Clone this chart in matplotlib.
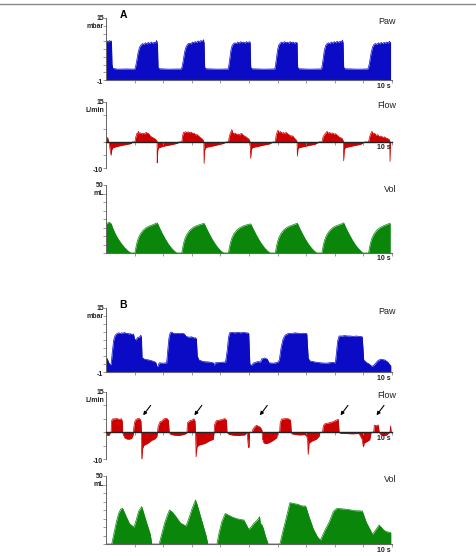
import matplotlib
matplotlib.use('Agg')
import matplotlib.pyplot as plt
from matplotlib.lines import Line2D

plt.rcParams['font.family'] = ['Liberation Sans', 'DejaVu Sans']

# ---------------- data (time s, value) ----------------
paw_a = [(0.00, 8.6), (0.04, 9.1), (0.08, 8.8), (0.12, 9.2), (0.16, 8.9), (0.19, 9.1), (0.21, 3.0), (0.24, 2.0),
         (0.40, 1.8), (0.70, 1.85), (1.00, 1.8),
         (1.03, 2.3), (1.07, 3.8), (1.12, 6.0), (1.17, 7.4), (1.23, 8.1), (1.28, 8.4), (1.33, 8.2), (1.38, 8.6),
         (1.43, 8.3), (1.48, 8.7), (1.53, 8.4), (1.58, 8.8), (1.63, 8.5), (1.68, 8.7), (1.73, 8.6), (1.77, 9.2),
         (1.80, 8.2), (1.82, 2.3), (1.86, 1.9), (2.20, 1.8), (2.63, 1.85),
         (2.66, 2.4), (2.70, 4.0), (2.75, 6.3), (2.80, 7.6), (2.86, 8.3), (2.92, 8.5), (2.97, 8.3), (3.02, 8.8),
         (3.07, 8.6), (3.12, 8.9), (3.17, 8.7), (3.22, 9.1), (3.27, 8.8), (3.32, 9.2), (3.37, 8.9), (3.41, 9.4),
         (3.43, 8.5), (3.45, 2.3), (3.49, 1.9), (3.90, 1.8), (4.27, 1.85),
         (4.29, 2.5), (4.33, 4.6), (4.37, 6.8), (4.41, 7.9), (4.46, 8.4), (4.51, 8.6), (4.56, 8.4), (4.61, 8.8),
         (4.66, 8.5), (4.71, 8.9), (4.76, 8.6), (4.81, 8.8), (4.86, 8.5), (4.91, 8.9), (4.96, 8.6), (5.01, 8.9),
         (5.04, 8.7), (5.06, 2.3), (5.10, 1.9), (5.50, 1.8), (5.90, 1.85),
         (5.92, 2.5), (5.96, 4.6), (6.00, 6.8), (6.04, 8.0), (6.09, 8.5), (6.14, 8.8), (6.19, 8.5), (6.24, 8.9),
         (6.29, 8.6), (6.34, 8.8), (6.39, 8.5), (6.44, 8.9), (6.49, 8.6), (6.54, 8.8), (6.59, 8.5), (6.64, 8.7),
         (6.68, 8.6), (6.70, 2.3), (6.74, 1.9), (7.10, 1.8), (7.53, 1.85),
         (7.55, 2.4), (7.59, 4.3), (7.63, 6.5), (7.68, 7.9), (7.73, 8.4), (7.78, 8.6), (7.83, 8.4), (7.88, 8.8),
         (7.93, 8.5), (7.98, 8.9), (8.03, 8.6), (8.08, 9.0), (8.13, 8.7), (8.18, 9.0), (8.23, 8.8), (8.27, 9.3),
         (8.29, 8.5), (8.31, 2.3), (8.35, 1.9), (8.80, 1.8), (9.15, 1.85),
         (9.18, 2.3), (9.22, 3.8), (9.27, 6.0), (9.32, 7.5), (9.37, 8.2), (9.42, 8.4), (9.47, 8.2), (9.52, 8.6),
         (9.57, 8.3), (9.62, 8.7), (9.67, 8.4), (9.72, 8.7), (9.77, 8.5), (9.82, 8.8), (9.87, 8.5), (9.91, 9.0),
         (9.95, 8.6)]

flow_a = [(0.00, 0.0), (0.01, 1.8), (0.06, 1.5), (0.09, 0.3), (0.12, -1.0), (0.15, -3.5), (0.18, -5.0), (0.20, -3.0),
          (0.24, -2.2), (0.35, -1.8), (0.50, -1.4), (0.70, -1.0), (0.88, -0.6), (0.92, 0.0), (1.00, 0.0),
          (1.01, 0.0), (1.04, 1.8), (1.08, 3.2), (1.11, 3.0), (1.13, 4.0), (1.16, 3.2), (1.20, 3.4), (1.25, 3.0),
          (1.30, 3.3), (1.35, 3.0), (1.40, 3.6), (1.45, 3.3), (1.50, 3.0), (1.55, 2.2), (1.60, 1.8), (1.66, 1.5),
          (1.72, 1.1), (1.77, 0.6), (1.785, 0.0),
          (1.79, -7.9), (1.81, -3.0), (1.84, -2.2), (1.95, -1.8), (2.10, -1.4), (2.30, -1.0), (2.50, -0.5),
          (2.55, 0.0), (2.64, 0.0),
          (2.65, 0.0), (2.68, 2.4), (2.71, 3.6), (2.75, 3.4), (2.79, 3.9), (2.83, 3.5), (2.88, 3.8), (2.93, 3.4),
          (2.98, 3.7), (3.03, 3.2), (3.08, 3.3), (3.13, 2.6), (3.18, 2.8), (3.23, 2.3), (3.30, 1.6), (3.38, 1.0),
          (3.42, 0.0),
          (3.43, -8.1), (3.45, -3.0), (3.50, -2.0), (3.70, -1.6), (3.90, -1.1), (4.10, -0.6), (4.20, 0.0), (4.27, 0.0),
          (4.28, 0.0), (4.31, 2.0), (4.35, 3.4), (4.40, 4.6), (4.43, 3.5), (4.47, 3.0), (4.52, 3.3), (4.57, 2.8),
          (4.62, 3.0), (4.67, 2.6), (4.72, 3.2), (4.77, 2.9), (4.82, 2.3), (4.88, 2.0), (4.94, 1.5), (5.00, 1.0),
          (5.04, 0.0),
          (5.06, -6.2), (5.08, -2.8), (5.12, -2.1), (5.30, -1.7), (5.50, -1.2), (5.70, -0.8), (5.85, 0.0), (5.90, 0.0),
          (5.92, 0.0), (5.95, 2.6), (5.98, 3.6), (6.01, 4.4), (6.05, 3.6), (6.10, 3.9), (6.15, 3.3), (6.20, 3.5),
          (6.25, 3.2), (6.30, 3.6), (6.35, 3.0), (6.40, 2.7), (6.46, 2.2), (6.52, 2.3), (6.58, 1.5), (6.64, 0.9),
          (6.68, 0.0),
          (6.69, -5.4), (6.71, -2.6), (6.76, -2.1), (6.90, -1.8), (7.10, -1.3), (7.30, -0.9), (7.45, 0.0), (7.53, 0.0),
          (7.55, 0.0), (7.59, 1.9), (7.64, 2.8), (7.69, 3.4), (7.73, 4.0), (7.77, 3.2), (7.82, 3.6), (7.87, 3.0),
          (7.92, 3.4), (7.97, 2.9), (8.02, 3.1), (8.07, 2.6), (8.13, 2.0), (8.19, 1.6), (8.25, 1.4), (8.29, 0.5),
          (8.30, 0.0),
          (8.31, -7.1), (8.33, -3.0), (8.37, -2.1), (8.50, -1.8), (8.70, -1.3), (8.90, -0.9), (9.05, 0.0), (9.16, 0.0),
          (9.18, 0.0), (9.22, 2.0), (9.26, 3.2), (9.30, 4.0), (9.34, 3.0), (9.39, 3.3), (9.44, 2.5), (9.50, 2.7),
          (9.56, 2.0), (9.62, 2.2), (9.68, 1.7), (9.74, 1.9), (9.80, 1.4), (9.86, 1.2), (9.91, 0.8), (9.92, 0.0),
          (9.93, -7.4), (9.94, -3.0), (9.95, 0.0)]

vol_a = [(0.00, 21.0), (0.05, 22.0), (0.12, 22.6), (0.18, 21.5), (0.25, 17.5), (0.35, 13.0), (0.45, 9.5),
         (0.55, 6.5), (0.65, 4.0), (0.75, 1.8), (0.85, 0.3), (0.90, 0.0), (1.01, 0.0),
         (1.04, 3.5), (1.08, 7.5), (1.13, 11.0), (1.20, 14.0), (1.30, 16.8), (1.40, 18.6), (1.50, 19.7),
         (1.60, 20.5), (1.70, 21.4), (1.79, 22.2),
         (1.88, 18.0), (1.98, 13.8), (2.08, 10.0), (2.18, 6.6), (2.28, 3.8), (2.38, 1.6), (2.46, 0.2), (2.50, 0.0),
         (2.65, 0.0),
         (2.68, 3.8), (2.72, 7.8), (2.77, 11.2), (2.84, 14.2), (2.94, 17.0), (3.04, 18.7), (3.14, 19.8),
         (3.24, 20.6), (3.34, 21.3), (3.43, 21.8),
         (3.52, 17.8), (3.62, 13.6), (3.72, 9.8), (3.82, 6.5), (3.92, 3.7), (4.02, 1.5), (4.10, 0.2), (4.13, 0.0),
         (4.28, 0.0),
         (4.31, 3.6), (4.35, 7.6), (4.40, 11.0), (4.47, 14.0), (4.57, 16.8), (4.67, 18.5), (4.77, 19.6),
         (4.87, 20.4), (4.97, 21.0), (5.06, 21.4),
         (5.15, 17.5), (5.25, 13.4), (5.35, 9.6), (5.45, 6.4), (5.55, 3.6), (5.65, 1.4), (5.73, 0.2), (5.76, 0.0),
         (5.92, 0.0),
         (5.95, 3.7), (5.99, 7.7), (6.04, 11.1), (6.11, 14.1), (6.21, 16.9), (6.31, 18.6), (6.41, 19.7),
         (6.51, 20.5), (6.61, 21.3), (6.69, 21.9),
         (6.78, 17.8), (6.88, 13.6), (6.98, 9.8), (7.08, 6.5), (7.18, 3.7), (7.28, 1.5), (7.36, 0.2), (7.39, 0.0),
         (7.55, 0.0),
         (7.58, 3.8), (7.62, 7.8), (7.67, 11.2), (7.74, 14.2), (7.84, 17.0), (7.94, 18.8), (8.04, 19.9),
         (8.14, 20.7), (8.24, 21.5), (8.31, 22.2),
         (8.40, 18.0), (8.50, 13.8), (8.60, 10.0), (8.70, 6.6), (8.80, 3.8), (8.90, 1.6), (8.97, 0.2), (9.00, 0.0),
         (9.18, 0.0),
         (9.21, 3.6), (9.25, 7.6), (9.30, 11.0), (9.37, 14.0), (9.47, 16.8), (9.57, 18.5), (9.67, 19.7),
         (9.77, 20.6), (9.87, 21.4), (9.94, 22.0)]

paw_b = [(0.00, 2.2), (0.04, 2.4), (0.08, 1.6), (0.14, 0.8), (0.18, 1.0),
         (0.22, 4.0), (0.27, 7.0), (0.32, 8.2), (0.38, 8.6), (0.45, 8.8), (0.50, 8.6), (0.55, 8.8), (0.60, 8.7),
         (0.65, 8.9), (0.70, 8.6), (0.75, 8.7), (0.80, 8.5), (0.85, 8.6), (0.90, 8.4), (0.96, 8.5), (1.00, 7.2),
         (1.05, 7.0), (1.10, 7.6), (1.18, 7.8), (1.22, 8.2), (1.24, 7.5), (1.26, 2.6), (1.35, 2.2), (1.50, 2.0),
         (1.65, 1.7), (1.74, 1.4), (1.78, 0.4), (1.82, 0.5), (1.86, 1.3), (2.00, 1.2), (2.12, 1.3),
         (2.16, 4.5), (2.20, 7.5), (2.24, 8.7), (2.28, 9.0), (2.35, 8.7), (2.42, 8.6), (2.50, 8.7), (2.58, 8.6),
         (2.66, 8.7), (2.74, 8.5), (2.80, 7.9), (2.90, 7.7), (3.00, 7.8), (3.08, 7.5), (3.12, 7.6), (3.16, 7.3),
         (3.19, 3.0), (3.25, 2.0), (3.40, 1.6), (3.60, 1.5), (3.75, 1.3), (3.78, 0.6), (3.82, 1.3), (4.00, 1.4),
         (4.18, 1.5),
         (4.24, 4.5), (4.28, 7.5), (4.32, 8.8), (4.40, 8.9), (4.50, 8.8), (4.60, 8.9), (4.70, 8.8), (4.80, 8.9),
         (4.90, 8.8), (4.99, 8.7), (5.03, 1.0), (5.08, 0.6), (5.15, 1.2), (5.30, 1.6), (5.40, 1.5), (5.45, 2.3),
         (5.55, 2.5), (5.64, 2.2), (5.70, 1.3), (5.85, 1.2), (6.00, 1.4),
         (6.06, 2.0), (6.12, 5.0), (6.18, 7.0), (6.24, 8.0), (6.30, 8.4), (6.40, 8.7), (6.50, 8.6), (6.60, 8.8),
         (6.70, 8.7), (6.80, 8.6), (6.90, 8.7), (7.02, 8.6), (7.07, 2.5), (7.12, 1.8), (7.30, 1.5), (7.50, 1.3),
         (7.70, 1.2), (7.90, 1.4), (8.02, 1.3),
         (8.06, 4.0), (8.10, 6.8), (8.15, 8.0), (8.25, 8.0), (8.35, 8.1), (8.45, 8.0), (8.55, 8.0), (8.65, 7.9),
         (8.75, 8.0), (8.85, 7.9), (8.96, 7.8), (9.01, 2.0), (9.10, 1.4), (9.20, 1.0), (9.30, 0.4), (9.38, 0.8),
         (9.50, 1.8), (9.60, 2.2), (9.75, 2.0), (9.85, 1.5), (9.96, 0.5)]

flow_b = [(0.00, -1.0), (0.10, -1.2), (0.16, 0.0),
          (0.18, 0.0), (0.19, 4.0), (0.22, 4.9), (0.30, 5.0), (0.38, 5.1), (0.46, 4.8), (0.54, 5.0), (0.57, 4.0),
          (0.58, 0.0),
          (0.60, -0.8), (0.65, -2.0), (0.72, -2.5), (0.82, -2.6), (0.90, -2.2), (0.95, -1.0), (0.96, 0.0),
          (0.97, 1.5), (1.00, 3.8), (1.05, 4.8), (1.12, 5.1), (1.18, 5.0), (1.22, 4.2), (1.24, 0.0),
          (1.25, -10.8), (1.28, -6.0), (1.33, -4.8), (1.45, -4.2), (1.60, -3.0), (1.72, -2.4), (1.78, -1.5),
          (1.80, 0.0),
          (1.82, 2.0), (1.88, 3.8), (1.95, 4.2), (2.03, 5.0), (2.12, 5.2), (2.18, 4.5), (2.21, 0.0),
          (2.26, -0.8), (2.40, -1.1), (2.55, -1.2), (2.70, -0.9), (2.80, -0.5), (2.83, 0.0),
          (2.85, 3.5), (2.92, 4.2), (3.00, 4.5), (3.07, 5.0), (3.11, 4.2), (3.13, 0.0),
          (3.15, -9.2), (3.18, -5.5), (3.25, -4.8), (3.45, -4.2), (3.60, -3.3), (3.75, -2.6), (3.78, 0.0),
          (3.80, 3.0), (3.86, 4.3), (3.95, 4.5), (4.05, 4.7), (4.15, 5.1), (4.21, 4.5), (4.23, 0.0),
          (4.30, -0.8), (4.45, -1.1), (4.65, -1.2), (4.85, -1.0), (4.93, 0.0),
          (4.98, -5.7), (5.00, -5.5), (5.02, 0.0),
          (5.11, 0.0), (5.14, 1.2), (5.20, 2.0), (5.26, 2.6), (5.33, 2.2), (5.40, 1.8), (5.45, 0.8), (5.46, 0.0),
          (5.47, -2.5), (5.52, -4.0), (5.60, -4.3), (5.72, -3.8), (5.85, -3.0), (5.97, -2.0), (6.00, 0.0),
          (6.07, 0.0), (6.09, 3.5), (6.14, 4.9), (6.22, 5.0), (6.30, 5.1), (6.38, 5.0), (6.45, 4.5), (6.48, 0.0),
          (6.50, -0.6), (6.65, -0.9), (6.80, -1.0), (6.95, -0.9), (7.02, -1.5),
          (7.05, -3.0), (7.07, -8.3), (7.10, -4.0), (7.20, -3.3), (7.35, -2.6), (7.45, -1.5), (7.48, 0.0),
          (7.57, 0.0), (7.60, 2.5), (7.66, 3.2), (7.75, 3.4), (7.85, 3.6), (7.95, 4.0), (8.05, 4.5), (8.12, 4.8),
          (8.15, 0.0),
          (8.20, -0.4), (8.40, -0.5), (8.60, -0.6), (8.85, -0.5),
          (8.95, -2.5), (9.00, -5.5), (9.03, -4.0), (9.12, -3.5), (9.22, -2.8), (9.27, 0.0),
          (9.36, 0.0), (9.38, 2.6), (9.45, 2.4), (9.52, 2.7), (9.55, 0.0),
          (9.62, -1.0), (9.70, -1.3), (9.80, -1.1), (9.88, -0.4), (9.91, 0.0),
          (9.93, 0.0), (9.95, 2.4), (9.97, 0.0)]

vol_b = [(0.00, 0.0), (0.20, 0.0), (0.28, 8.0), (0.36, 16.0), (0.44, 22.5), (0.52, 25.8), (0.58, 26.2),
         (0.70, 20.5), (0.82, 15.0), (0.98, 12.3), (1.06, 18.0), (1.14, 24.0), (1.25, 27.5), (1.40, 17.0),
         (1.55, 7.0), (1.60, 0.0), (1.86, 0.0),
         (1.95, 7.5), (2.05, 15.5), (2.15, 21.5), (2.22, 25.0), (2.32, 23.5), (2.45, 20.0), (2.60, 15.5),
         (2.80, 13.2), (2.90, 19.0), (3.00, 25.5), (3.13, 32.4), (3.20, 28.0), (3.35, 17.0), (3.50, 6.0),
         (3.56, 0.0), (3.88, 0.0),
         (3.95, 8.0), (4.05, 16.5), (4.17, 22.5), (4.30, 21.0), (4.45, 19.5), (4.60, 18.5), (4.82, 17.6),
         (4.99, 10.8), (5.08, 12.7), (5.17, 15.2), (5.29, 17.6), (5.37, 20.0), (5.40, 14.0), (5.44, 14.7),
         (5.50, 11.5), (5.58, 5.4), (5.67, 0.0), (6.08, 0.0),
         (6.18, 9.0), (6.30, 19.0), (6.43, 30.4), (6.55, 29.8), (6.70, 29.2), (6.85, 28.0), (6.98, 27.9),
         (7.10, 20.0), (7.25, 11.0), (7.40, 5.0), (7.50, 2.9), (7.65, 10.0), (7.80, 16.0), (7.95, 24.0),
         (8.07, 26.2), (8.44, 25.5), (8.70, 24.5), (8.96, 24.3), (9.10, 16.0), (9.32, 7.1), (9.55, 14.0),
         (9.72, 10.0), (9.82, 9.0), (9.96, 8.3)]

arrow_t = [1.30, 3.09, 5.38, 8.20, 9.46]
arrow_v = [6.3, 6.3, 6.3, 6.3, 6.3]

# panel definitions: name, trace, y-range, top label, unit, bottom label
panels = [
    ('Paw',  paw_a,  (-1, 15),  '15', 'mbar',  '-1',  '#0b0bc6', 2.0),
    ('Flow', flow_a, (-10, 15), '15', 'L/min', '-10', '#cc0000', 5.0),
    ('Vol',  vol_a,  (0, 50),   '50', 'mL',    '',    '#0a870a', 6.25),
    ('Paw',  paw_b,  (-1, 15),  '15', 'mbar',  '-1',  '#0b0bc6', 2.0),
    ('Flow', flow_b, (-10, 15), '15', 'L/min', '-10', '#cc0000', 5.0),
    ('Vol',  vol_b,  (0, 50),   '50', 'mL',    '',    '#0a870a', 6.25),
]
# pixel rows (top, bottom) of each plotting area
rows = [(18, 80), (102, 168.5), (185, 253), (308, 372), (392, 459), (476, 544)]

W, H = 477, 556
fig = plt.figure(figsize=(W / 100, H / 100), dpi=100)
X0, X1 = 106, 392
GRAY = '#666666'


def ftext(x, y, s, **kw):
    fig.text(x / W, 1 - y / H, s, **kw)


# thin frame line at the very top
fig.add_artist(Line2D([0, 475 / W], [1 - 3.5 / H, 1 - 3.5 / H], color='#8a8a8a', lw=1.0))

axes = []
for (name, trace, ylim, toplab, unit, botlab, col, ystep), (top, bot) in zip(panels, rows):
    ax = fig.add_axes([X0 / W, 1 - bot / H, (X1 - X0) / W, (bot - top) / H])
    axes.append(ax)
    t = [p[0] for p in trace]
    v = [p[1] for p in trace]
    base = ylim[0] if ylim[0] >= -1 else 0
    if name == 'Flow':
        base = 0
    ax.fill_between(t, base, v, color=col, lw=0)
    ax.plot(t, v, color=col, lw=0.5)
    ax.set_xlim(0, 10)
    ax.set_ylim(*ylim)
    for s in ('top', 'right'):
        ax.spines[s].set_visible(False)
    ax.spines['left'].set_color(GRAY)
    ax.spines['left'].set_linewidth(0.7)
    if name == 'Flow':
        ax.spines['bottom'].set_position(('data', 0))
        ax.spines['bottom'].set_color('#222222')
        ax.spines['bottom'].set_linewidth(1.0)
    else:
        ax.spines['bottom'].set_color(GRAY)
        ax.spines['bottom'].set_linewidth(0.8)
    ax.set_xticks(range(1, 11))
    yt = []
    y = ylim[0]
    while y <= ylim[1] + 1e-9:
        yt.append(y)
        y += ystep
    ax.set_yticks(yt)
    ax.tick_params(axis='both', length=2, width=0.6, color='#888888',
                   labelleft=False, labelbottom=False)
    ax.patch.set_alpha(0)

    # labels in pixel coordinates
    zero_px = top + (bot - top) * (ylim[1] - 0) / (ylim[1] - ylim[0]) if name == 'Flow' else bot
    ftext(104, top + 1, toplab, ha='right', va='center', fontsize=5, fontweight='bold', color='#222222')
    ftext(104, top + 8.5, unit, ha='right', va='center', fontsize=5, fontweight='bold', color='#222222')
    if botlab:
        ftext(103, bot + 2.5, botlab, ha='right', va='center', fontsize=5, fontweight='bold', color='#222222')
    ftext(396, top + 4, name, ha='right', va='center', fontsize=6.5, color='#222222')
    ftext(391, zero_px + 6, '10 s', ha='right', va='center', fontsize=5, fontweight='bold', color='#222222')

ftext(123.5, 14.5, 'A', ha='center', va='center', fontsize=7.5, fontweight='bold')
ftext(123.5, 305.5, 'B', ha='center', va='center', fontsize=7.5, fontweight='bold')

axf = axes[4]
for ta, va in zip(arrow_t, arrow_v):
    axf.annotate('', xy=(ta, va), xytext=(ta + 0.26, va + 3.7),
                 arrowprops=dict(arrowstyle='-|>', color='black', lw=0.8, mutation_scale=5,
                                 shrinkA=0, shrinkB=0))

fig.savefig('out.png', dpi=100)
